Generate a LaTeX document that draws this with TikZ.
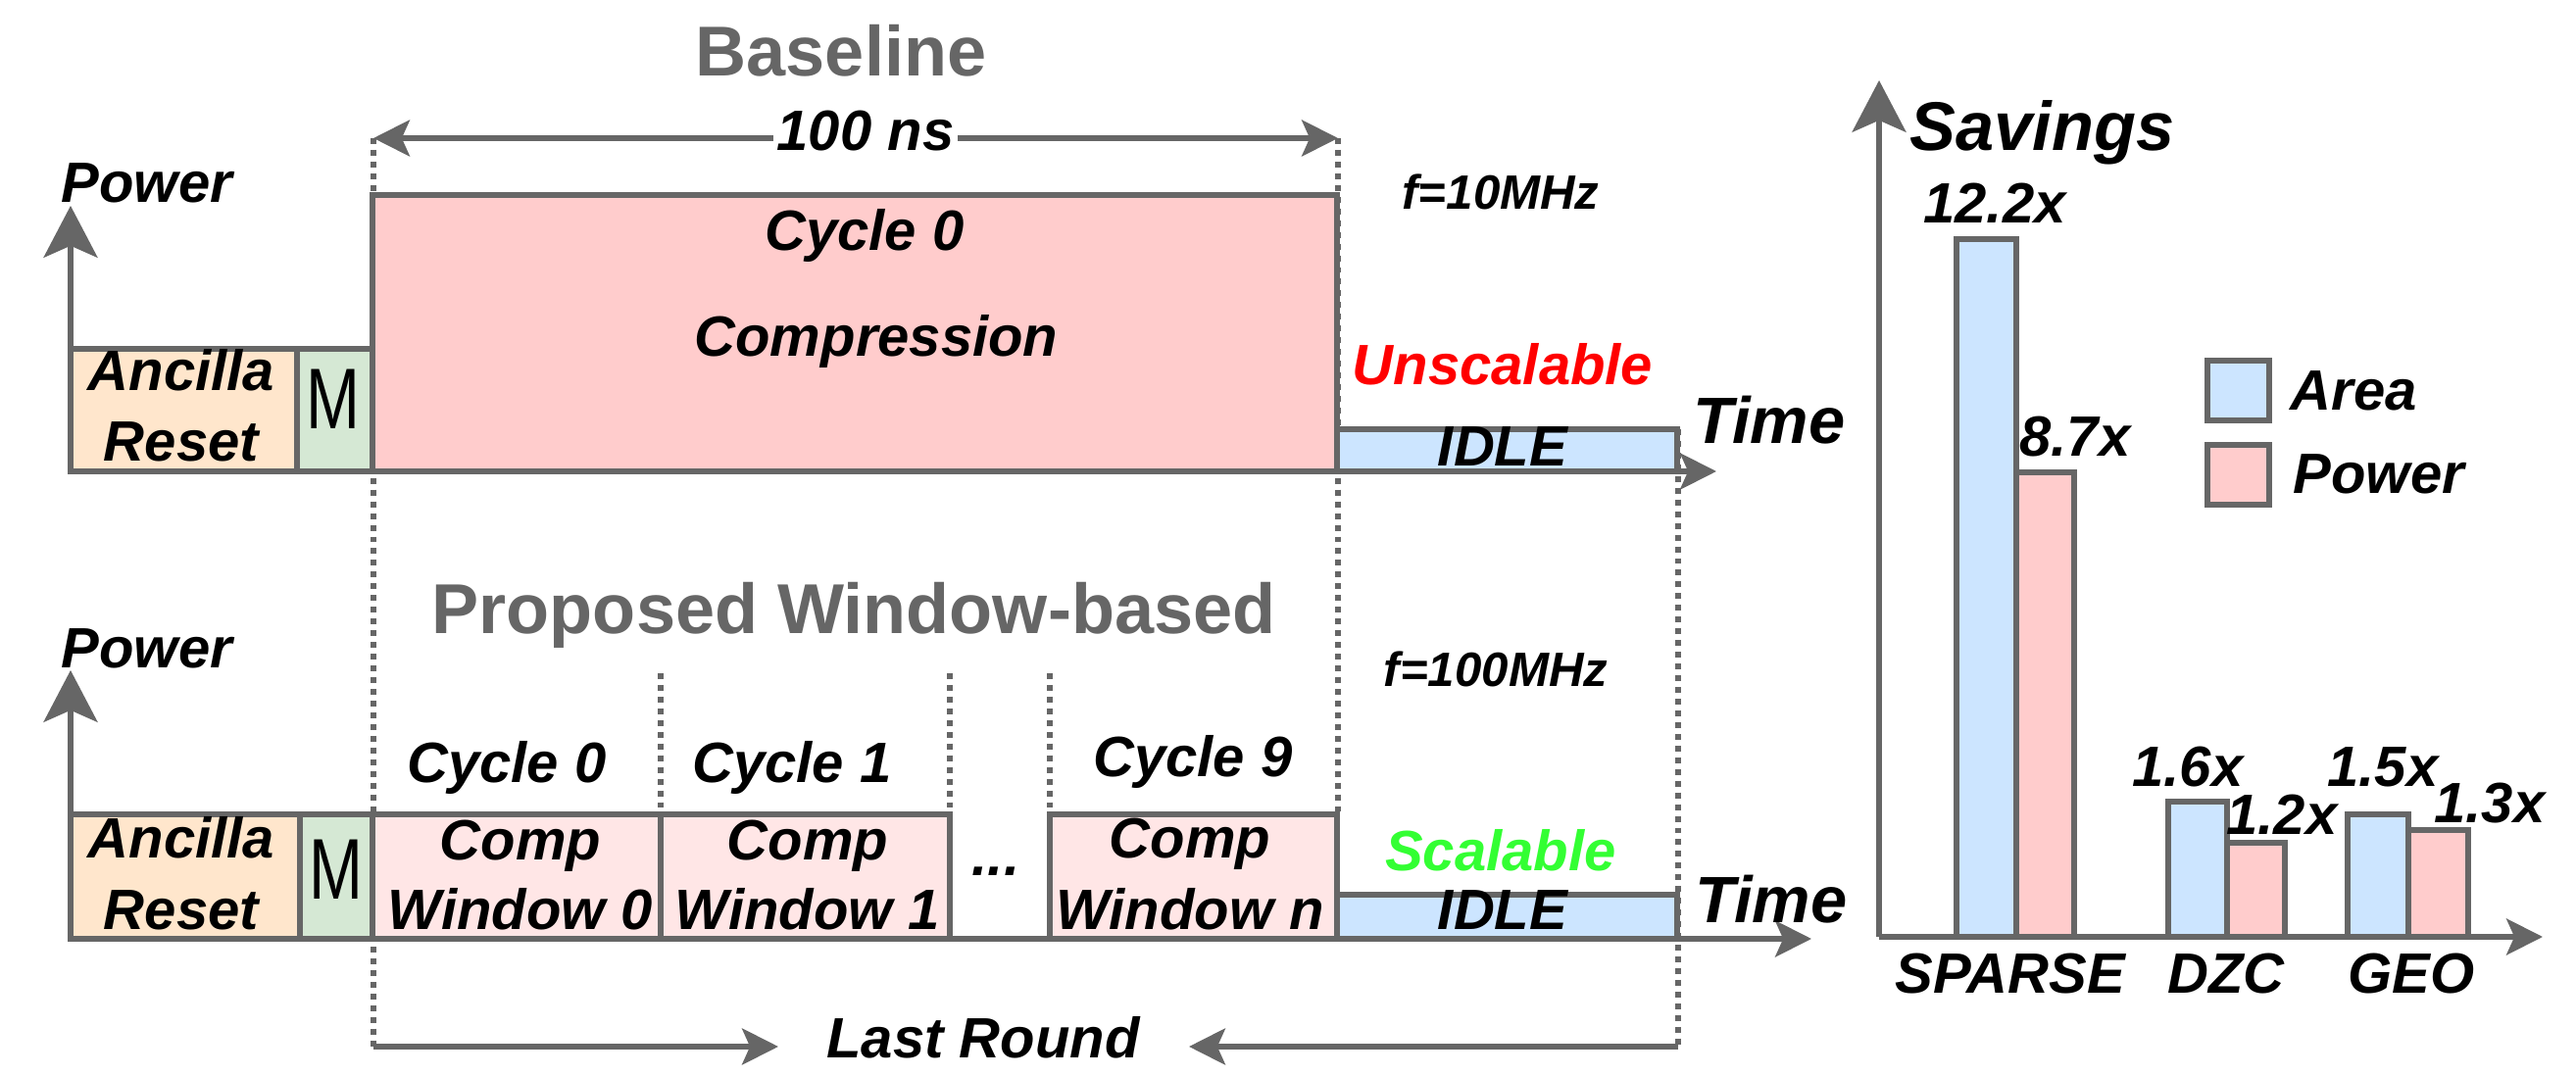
\documentclass[tikz,border=0pt]{standalone}
\usepackage{fontspec}
\setmainfont{Liberation Sans}
\usepackage{graphicx}
\usetikzlibrary{arrows.meta}
\definecolor{lg}{HTML}{666666}
\definecolor{pinkA}{HTML}{FFCCCC}
\definecolor{pinkB}{HTML}{FFE6E6}
\definecolor{orng}{HTML}{FFE6CC}
\definecolor{grn}{HTML}{D5E8D4}
\definecolor{blu}{HTML}{CCE5FF}
\definecolor{redtxt}{HTML}{FF0000}
\definecolor{grntxt}{HTML}{33FF33}
\begin{document}
\begin{tikzpicture}[x=0.01cm,y=-0.01cm,
  ln/.style={draw=lg, line width=1.6pt},
  dotln/.style={draw=lg, line width=1.6pt, dash pattern=on 1.7pt off 1.7pt},
  sarrow/.style={ln, -{Stealth[length=10.5pt,width=10.5pt,inset=2.3pt]}},
  barrow/.style={ln, -{Stealth[length=15pt,width=15.6pt,inset=3.4pt]}},
  lbl/.style={font={\bfseries\itshape\fontsize{16.5}{18}\selectfont}, inner sep=0pt, anchor=base},
  lblw/.style={lbl, anchor=base west},
  ttl/.style={font={\bfseries\fontsize{20.5}{22}\selectfont}, text=lg, inner sep=0pt, anchor=base},
  freq/.style={lbl, font={\bfseries\itshape\fontsize{14}{16}\selectfont}},
  timel/.style={lblw, font={\bfseries\itshape\fontsize{19}{21}\selectfont}},
  mlbl/.style={inner sep=0pt, anchor=base, font={\fontsize{25}{26}\selectfont}},
  box/.style={ln}
]
\useasboundingbox (0,0) rectangle (2628,1098);

% ---------- dotted guide lines ----------
\draw[dotln] (381,141) -- (381,1068);
\draw[dotln] (1365,141) -- (1365,831);
\draw[dotln] (1712,438) -- (1712,1068);
\draw[dotln] (674,687) -- (674,831);
\draw[dotln] (969,687) -- (969,831);
\draw[dotln] (1071,687) -- (1071,831);

% ---------- upper (baseline) ----------
\filldraw[box, fill=orng] (72,356) rectangle (303,481);
\filldraw[box, fill=grn] (303,356) rectangle (380,481);
\filldraw[box, fill=pinkA] (380,199) rectangle (1364,481);
\filldraw[box, fill=blu] (1364,438) rectangle (1711,481);

\coordinate (o1) at (72,481);
\coordinate (y1) at (72,210);
\coordinate (x1) at (1751,481);
\draw[barrow] (o1) -- (y1);
\draw[sarrow] (o1) -- (x1);

\coordinate (nsL) at (381,141);
\coordinate (nsR) at (1365,141);
\draw[ln, {Stealth[length=10.5pt,width=10.5pt,inset=2.3pt]}-{Stealth[length=10.5pt,width=10.5pt,inset=2.3pt]}] (nsL) -- (nsR);
\node[lbl, fill=white, inner xsep=1pt] (ns) at (883,154) {100 ns};

\node[ttl] (tbase) at (858,78) {Baseline};
\node[lblw] (pw1) at (62,207) {Power};
\node[lbl] (cyc0) at (882,256) {Cycle 0};
\node[lbl] (compr) at (894,364) {Compression};
\node[lbl] (anc1) at (185,399) {Ancilla};
\node[lbl] (rst1) at (185,471) {Reset};
\node[mlbl] (m1) at (340,438) {\scalebox{0.75}[1]{M}};
\node[freq] (f1) at (1531,214) {f=10MHz};
\node[lbl, text=redtxt] (unsc) at (1533,393) {Unscalable};
\node[lbl] (idle1) at (1533,476) {IDLE};
\node[timel] (time1) at (1727,453) {Time};

% ---------- lower (proposed) ----------
\filldraw[box, fill=orng] (72,831) rectangle (306,958);
\filldraw[box, fill=grn] (306,831) rectangle (380,958);
\filldraw[box, fill=pinkB] (380,831) rectangle (674,958);
\filldraw[box, fill=pinkB] (674,831) rectangle (969,958);
\filldraw[box, fill=pinkB] (1071,831) rectangle (1364,958);
\filldraw[box, fill=blu] (1364,913) rectangle (1711,958);

\coordinate (o2) at (72,958);
\coordinate (y2) at (72,684);
\coordinate (x2) at (1848,958);
\draw[barrow] (o2) -- (y2);
\draw[sarrow] (o2) -- (x2);

\node[ttl] (tprop) at (871,647) {Proposed Window-based};
\node[lblw] (pw2) at (62,682) {Power};
\node[lbl] (c0) at (517,798) {Cycle 0};
\node[lbl] (c1) at (808,798) {Cycle 1};
\node[lbl] (c9) at (1217,793) {Cycle 9};
\node[lbl] (cp0) at (531,877) {Comp};
\node[lbl] (cp1) at (824,877) {Comp};
\node[lbl] (cpn) at (1214,876) {Comp};
\node[lbl] (w0) at (531,948) {Window 0};
\node[lbl] (w1) at (824,948) {Window 1};
\node[lbl] (wn) at (1214,948) {Window n};
\node[lbl] (anc2) at (185,876) {Ancilla};
\node[lbl] (rst2) at (185,948) {Reset};
\node[mlbl] (m2) at (343,917) {\scalebox{0.75}[1]{M}};
\node[lbl] (dots) at (1016,893) {...};
\node[freq] (f2) at (1526,701) {f=100MHz};
\node[lbl, text=grntxt] (scal) at (1531,888) {Scalable};
\node[lbl] (idle2) at (1533,948) {IDLE};
\node[timel] (time2) at (1729,941) {Time};

\node[lbl] (last) at (1003,1079) {Last Round};
\coordinate (lrA) at (381,1068);
\coordinate (lrB) at (794,1068);
\coordinate (lrC) at (1712,1068);
\coordinate (lrD) at (1213,1068);
\draw[sarrow] (lrA) -- (lrB);
\draw[sarrow] (lrC) -- (lrD);

% ---------- chart ----------
\filldraw[box, fill=blu] (1996,244) rectangle (2057,956);
\filldraw[box, fill=pinkA] (2057,482) rectangle (2116,956);
\filldraw[box, fill=blu] (2212,818) rectangle (2272,956);
\filldraw[box, fill=pinkA] (2272,860) rectangle (2331,956);
\filldraw[box, fill=blu] (2395,831) rectangle (2457,956);
\filldraw[box, fill=pinkA] (2457,847) rectangle (2518,956);

\coordinate (o3) at (1917,956);
\coordinate (y3) at (1917,82);
\coordinate (x3) at (2594,956);
\draw[barrow] (o3) -- (y3);
\draw[sarrow] (o3) -- (x3);

\node[lblw, font={\bfseries\itshape\fontsize{20}{22}\selectfont}] (sav) at (1948,154) {Savings};
\node[lbl] (v1) at (2035,228) {12.2x};
\node[lbl] (v2) at (2117,466) {8.7x};
\node[lbl] (v3) at (2232,802) {1.6x};
\node[lbl] (v4) at (2328,851) {1.2x};
\node[lbl] (v5) at (2431,802) {1.5x};
\node[lbl] (v6) at (2540,840) {1.3x};
\node[lbl] (csp) at (2051,1013) {SPARSE};
\node[lbl] (cdz) at (2271,1013) {DZC};
\node[lbl] (cge) at (2460,1013) {GEO};

\filldraw[box, fill=blu] (2252,368) rectangle (2315,429);
\filldraw[box, fill=pinkA] (2252,454) rectangle (2315,515);
\node[lblw] (lga) at (2336,419) {Area};
\node[lblw] (lgp) at (2339,504) {Power};
\end{tikzpicture}
\end{document}
